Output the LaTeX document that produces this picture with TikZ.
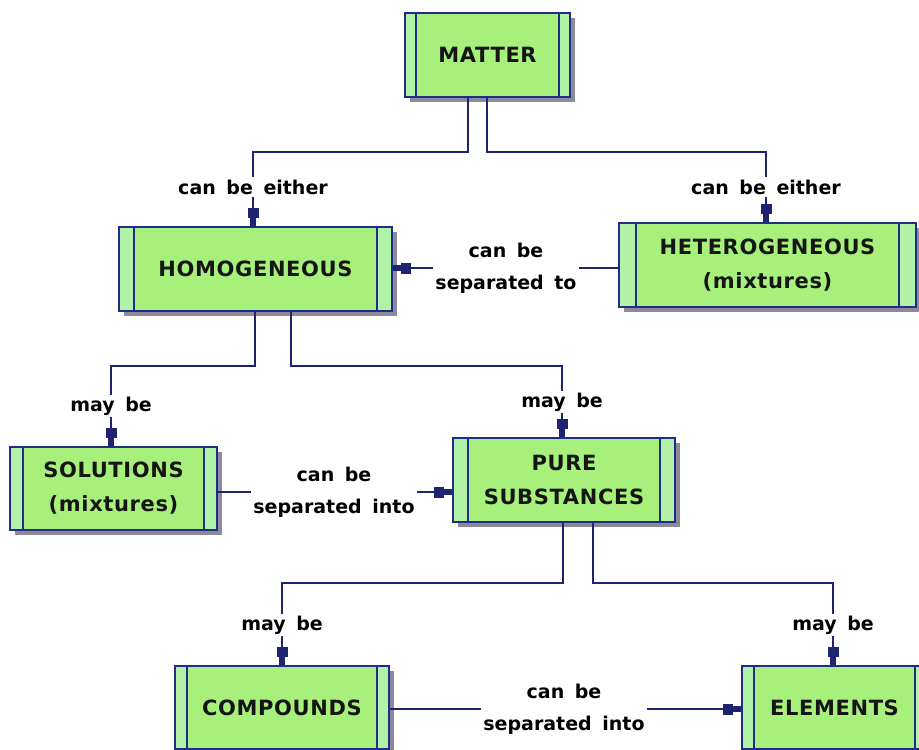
\documentclass[tikz,border=0pt]{standalone}
\usepackage{fontspec}
\usetikzlibrary{arrows.meta,shadows}
\newfontfamily\boxfont[LetterSpace=3]{DejaVu Sans}
\newfontfamily\labfont[WordSpace=1.6]{DejaVu Sans}
\definecolor{boxfill}{HTML}{A8F07C}
\definecolor{stripcol}{HTML}{B2F2A6}
\definecolor{boxline}{HTML}{1F2C8C}
\definecolor{connline}{HTML}{1E2470}
\definecolor{shadowcol}{HTML}{8A8A98}
\definecolor{textcol}{HTML}{151515}
\tikzset{
  stripw/.store in=\stripw, stripw=14pt,
  cbox/.style={draw=boxline, line width=1.4pt, fill=boxfill, inner sep=0pt,
    align=center, text=textcol,
    font=\boxfont\bfseries\fontsize{21}{34}\selectfont,
    drop shadow={shadow xshift=5pt, shadow yshift=-5pt, fill=shadowcol, opacity=1},
    path picture={
      \fill[stripcol] (path picture bounding box.north west) rectangle ([xshift=\stripw]path picture bounding box.south west);
      \fill[stripcol] (path picture bounding box.north east) rectangle ([xshift=-\stripw]path picture bounding box.south east);
      \draw[boxline, line width=1.4pt] ([xshift=\stripw]path picture bounding box.north west) -- ([xshift=\stripw]path picture bounding box.south west);
      \draw[boxline, line width=1.4pt] ([xshift=-\stripw]path picture bounding box.north east) -- ([xshift=-\stripw]path picture bounding box.south east);
    }},
  lab/.style={inner sep=2pt, align=center, text=black,
    font=\labfont\bfseries\fontsize{19}{32}\selectfont},
  conn/.style={draw=connline, line width=1.6pt},
  arr/.style={conn, -{Rectangle[length=10pt,width=11pt,sep=0pt]Rectangle[length=8pt,width=6pt,sep=0pt]}}
}
\begin{document}
\begin{tikzpicture}[x=1pt,y=-1pt]
\useasboundingbox (0,0) rectangle (919,750);
\fill[white] (0,0) rectangle (919,750);

% boxes
\node[cbox, minimum width=165pt, minimum height=84pt, stripw=11pt] (matter) at (487.5,55) {MATTER};
\node[cbox, minimum width=273pt, minimum height=84pt, stripw=15pt] (homog) at (255.5,269) {HOMOGENEOUS};
\node[cbox, minimum width=297pt, minimum height=84pt, stripw=17pt] (hetero) at (767.5,265) {HETEROGENEOUS\\(mixtures)};
\node[cbox, minimum width=207pt, minimum height=83pt, stripw=13pt] (sol) at (113.5,488.5) {SOLUTIONS\\(mixtures)};
\node[cbox, minimum width=222pt, minimum height=84pt, stripw=15pt] (pure) at (564,480) {PURE\\SUBSTANCES};
\node[cbox, minimum width=214pt, minimum height=83pt, stripw=12pt] (comp) at (282,707.5) {COMPOUNDS};
\node[cbox, minimum width=185pt, minimum height=83pt, stripw=12pt] (elem) at (834.5,707.5) {ELEMENTS};

% labels
\node[lab] (l1) at (253,187) {can be either};
\node[lab] (l2) at (766,187) {can be either};
\node[lab] (l3) at (506,268) {can be\\separated to};
\node[lab] (l4) at (111,406) {may be};
\node[lab] (l5) at (562,402) {may be};
\node[lab] (l6) at (334,492) {can be\\separated into};
\node[lab] (l7) at (282,625) {may be};
\node[lab] (l8) at (833,625) {may be};
\node[lab] (l9) at (564,709) {can be\\separated into};

% connectors
\draw[conn] ([xshift=-19.5pt]matter.south) -- ++(0,54) -| (l1.north);
\draw[conn] ([xshift=-0.5pt]matter.south) -- ++(0,54) -| (l2.north);
\draw[arr] (l1.south) -- (l1.south |- homog.north);
\draw[arr] (l2.south) -- (l2.south |- hetero.north);

\draw[conn] (l3.east -| hetero.west) -- (l3.east);
\draw[arr] (l3.west) -- (l3.west -| homog.east);

\draw[conn] ([xshift=-0.5pt]homog.south) -- ++(0,54) -| (l4.north);
\draw[conn] ([xshift=35.5pt]homog.south) -- ++(0,54) -| (l5.north);
\draw[arr] (l4.south) -- (l4.south |- sol.north);
\draw[arr] (l5.south) -- (l5.south |- pure.north);

\draw[conn] (l6.west -| sol.east) -- (l6.west);
\draw[arr] (l6.east) -- (l6.east -| pure.west);

\draw[conn] ([xshift=-1pt]pure.south) -- ++(0,60) -| (l7.north);
\draw[conn] ([xshift=29pt]pure.south) -- ++(0,60) -| (l8.north);
\draw[arr] (l7.south) -- (l7.south |- comp.north);
\draw[arr] (l8.south) -- (l8.south |- elem.north);

\draw[conn] (l9.west -| comp.east) -- (l9.west);
\draw[arr] (l9.east) -- (l9.east -| elem.west);
\end{tikzpicture}
\end{document}
